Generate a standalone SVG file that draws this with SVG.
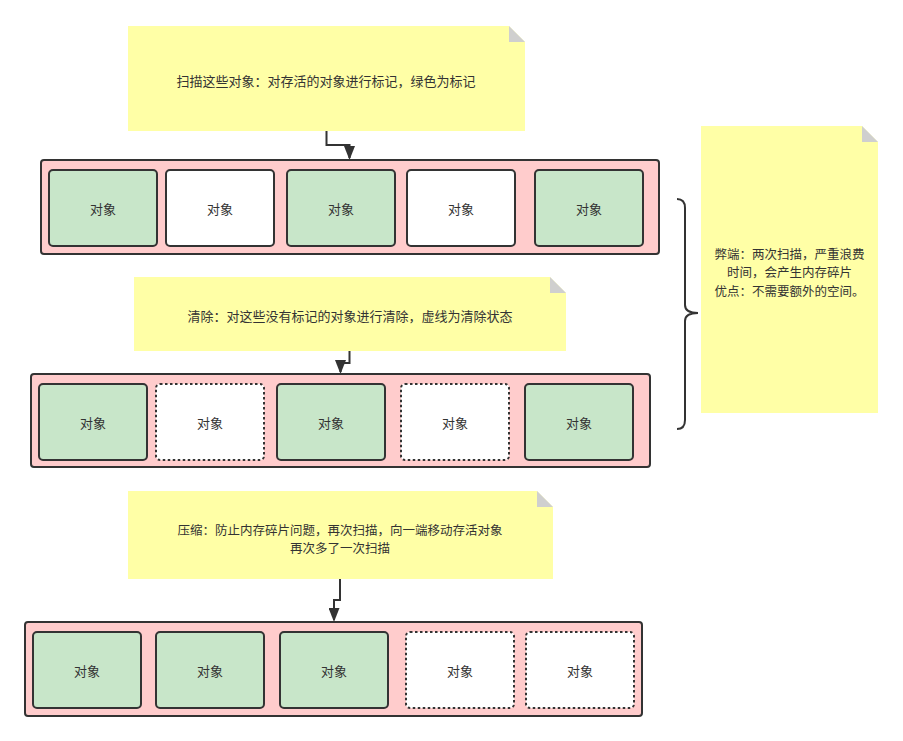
<svg xmlns="http://www.w3.org/2000/svg" width="903" height="741" viewBox="0 0 903 741">
<defs>
<style>
text{font-family:"Noto Sans CJK SC","Noto Sans",sans-serif;font-size:13px;fill:#333;text-anchor:middle;dominant-baseline:central}
text.multi{font-size:12.5px}
.note{fill:#FFFFA6}
.fold{fill:#CFCFCF}
.cont{fill:#FFCCCC;stroke:#333;stroke-width:2}
.live{fill:#C8E6C9;stroke:#333;stroke-width:2}
.dead{fill:#FFFFFF;stroke:#333;stroke-width:2}
.gone{fill:#FFFFFF;stroke:#333;stroke-width:2;stroke-dasharray:2.5 2.5}
.edge{fill:none;stroke:#333;stroke-width:2}
</style>
<marker id="arr" markerUnits="userSpaceOnUse" markerWidth="14" markerHeight="11" viewBox="0 0 14 11" refX="12" refY="5.5" orient="auto">
<path d="M0,0 L14,5.5 L0,11 Z" fill="#333"/>
</marker>
</defs>

<g id="note-scan">
<path class="note" d="M128,26 H509 L525,42 V131 H128 Z"/>
<path class="fold" d="M509,26 V42 H525 Z"/>
<text x="326" y="80">扫描这些对象：对存活的对象进行标记，绿色为标记</text>
</g>

<g id="row-mark">
<rect class="cont" x="41" y="160" width="618" height="94" rx="3"/>
<rect class="live" x="49" y="170" width="108" height="76" rx="4"/>
<rect class="dead" x="166" y="170" width="108" height="76" rx="4"/>
<rect class="live" x="287" y="170" width="108" height="76" rx="4"/>
<rect class="dead" x="407" y="170" width="108" height="76" rx="4"/>
<rect class="live" x="535" y="170" width="108" height="76" rx="4"/>
<text x="103" y="208">对象</text>
<text x="220" y="208">对象</text>
<text x="341" y="208">对象</text>
<text x="461" y="208">对象</text>
<text x="589" y="208">对象</text>
</g>

<g id="note-sweep">
<path class="note" d="M134,277 H550 L566,293 V351 H134 Z"/>
<path class="fold" d="M550,277 V293 H566 Z"/>
<text x="350" y="315">清除：对这些没有标记的对象进行清除，虚线为清除状态</text>
</g>

<g id="row-sweep">
<rect class="cont" x="31" y="374" width="619" height="93" rx="3"/>
<rect class="live" x="39" y="384" width="108" height="76" rx="4"/>
<rect class="gone" x="156" y="384" width="108" height="76" rx="4"/>
<rect class="live" x="277" y="384" width="108" height="76" rx="4"/>
<rect class="gone" x="401" y="384" width="108" height="76" rx="4"/>
<rect class="live" x="525" y="384" width="108" height="76" rx="4"/>
<text x="93" y="422">对象</text>
<text x="210" y="422">对象</text>
<text x="331" y="422">对象</text>
<text x="455" y="422">对象</text>
<text x="579" y="422">对象</text>
</g>

<g id="note-compact">
<path class="note" d="M128,491 H537 L553,507 V579 H128 Z"/>
<path class="fold" d="M537,491 V507 H553 Z"/>
<text class="multi" x="340" y="528.5"><tspan x="340" y="528.5">压缩：防止内存碎片问题，再次扫描，向一端移动存活对象</tspan><tspan x="340" y="547">再次多了一次扫描</tspan></text>
</g>

<g id="row-compact">
<rect class="cont" x="25" y="622" width="617" height="94" rx="3"/>
<rect class="live" x="33" y="632" width="108" height="76" rx="4"/>
<rect class="live" x="156" y="632" width="108" height="76" rx="4"/>
<rect class="live" x="280" y="632" width="108" height="76" rx="4"/>
<rect class="gone" x="406" y="632" width="108" height="76" rx="4"/>
<rect class="gone" x="526" y="632" width="108" height="76" rx="4"/>
<text x="87" y="670">对象</text>
<text x="210" y="670">对象</text>
<text x="334" y="670">对象</text>
<text x="460" y="670">对象</text>
<text x="580" y="670">对象</text>
</g>

<g id="summary">
<path class="note" d="M701,126 H862 L878,142 V413 H701 Z"/>
<path class="fold" d="M862,126 V142 H878 Z"/>
<text class="multi" x="789.5" y="252.5"><tspan x="789.5" y="252.5">弊端：两次扫描，严重浪费</tspan><tspan x="789.5" y="271">时间，会产生内存碎片</tspan><tspan x="789.5" y="289.5">优点：不需要额外的空间。</tspan></text>
</g>

<g id="brace">
<path class="edge" d="M677,199 Q685,199 685,208 L685,305 Q685,313 698,313 Q685,313 685,321 L685,420 Q685,429 677,429"/>
</g>

<g id="connectors">
<path class="edge" d="M326.5,131 V145 H349.5 V158" marker-end="url(#arr)"/>
<path class="edge" d="M349.5,351 V363 H340.5 V372" marker-end="url(#arr)"/>
<path class="edge" d="M340,579 V600 H334 V620" marker-end="url(#arr)"/>
</g>
</svg>
